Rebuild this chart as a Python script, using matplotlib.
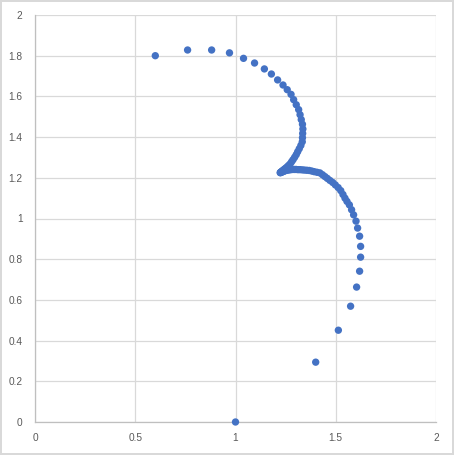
import matplotlib
matplotlib.use("Agg")
import matplotlib.pyplot as plt

# Data (ordered from the start at (1, 0) to the end at top-left)
x_values = [
    1.000, 1.400, 1.513, 1.574, 1.604, 1.619, 1.624, 1.624, 1.619, 1.609,
    1.601, 1.589, 1.579, 1.568, 1.556,
    1.546, 1.536, 1.525, 1.512, 1.498, 1.485, 1.471, 1.458, 1.446, 1.434,
    1.421, 1.407, 1.393, 1.381, 1.368, 1.356, 1.344, 1.333, 1.322, 1.312,
    1.302, 1.293, 1.284, 1.276, 1.268, 1.261, 1.254, 1.248, 1.243, 1.238,
    1.233, 1.230, 1.226, 1.223,
    1.224, 1.226, 1.228, 1.231, 1.235, 1.240, 1.245, 1.251, 1.258, 1.265,
    1.273, 1.280, 1.287, 1.295, 1.303, 1.310, 1.318, 1.326, 1.333, 1.334,
    1.335, 1.336, 1.334, 1.328, 1.322, 1.315, 1.303, 1.290, 1.277, 1.258,
    1.237, 1.210, 1.179, 1.144, 1.095, 1.040, 0.970, 0.881, 0.761, 0.600,
]
y_values = [
    0.000, 0.294, 0.451, 0.569, 0.663, 0.741, 0.810, 0.863, 0.913, 0.953,
    0.987, 1.018, 1.043, 1.067, 1.084,
    1.100, 1.118, 1.137, 1.152, 1.165, 1.177, 1.187, 1.197, 1.206, 1.215,
    1.224, 1.227, 1.230, 1.233, 1.236, 1.237, 1.238, 1.239, 1.240, 1.240,
    1.241, 1.241, 1.241, 1.240, 1.239, 1.238, 1.237, 1.235, 1.233, 1.231,
    1.229, 1.228, 1.226, 1.225,
    1.226, 1.227, 1.229, 1.232, 1.235, 1.239, 1.243, 1.248, 1.254, 1.261,
    1.269, 1.279, 1.289, 1.301, 1.314, 1.328, 1.343, 1.359, 1.377, 1.397,
    1.418, 1.440, 1.463, 1.486, 1.510, 1.535, 1.559, 1.584, 1.610, 1.633,
    1.656, 1.681, 1.710, 1.735, 1.764, 1.787, 1.814, 1.828, 1.828, 1.800,
]

x_ticks = [0, 0.5, 1, 1.5, 2]
x_tick_labels = ["0", "0.5", "1", "1.5", "2"]
y_ticks = [0, 0.2, 0.4, 0.6, 0.8, 1.0, 1.2, 1.4, 1.6, 1.8, 2.0]
y_tick_labels = ["0", "0.2", "0.4", "0.6", "0.8", "1", "1.2", "1.4", "1.6", "1.8", "2"]

plt.rcParams['font.family'] = ['Liberation Sans', 'DejaVu Sans']

fig = plt.figure(figsize=(4.54, 4.55), dpi=100)
fig.patch.set_facecolor('white')
fig.patch.set_edgecolor('#D9D9D9')
fig.patch.set_linewidth(1.5)

ax = fig.add_axes([35 / 454, 33 / 455, 401 / 454, 407 / 455])
ax.scatter(x_values, y_values, s=28, color='#4472C4', edgecolors='none', zorder=3, clip_on=False)

ax.set_xlim(0, 2)
ax.set_ylim(0, 2)
ax.set_xticks(x_ticks)
ax.set_xticklabels(x_tick_labels)
ax.set_yticks(y_ticks)
ax.set_yticklabels(y_tick_labels)
ax.tick_params(axis='both', length=0, labelsize=7.3, colors='#595959')
ax.tick_params(axis='x', pad=8)
ax.tick_params(axis='y', pad=9)

ax.grid(True, color='#D9D9D9', linewidth=0.9, zorder=0)
ax.set_axisbelow(True)
for side in ['top', 'right']:
    ax.spines[side].set_visible(False)
for side in ['left', 'bottom']:
    ax.spines[side].set_color('#BFBFBF')
    ax.spines[side].set_linewidth(0.9)

fig.savefig('out.png', dpi=100, facecolor=fig.get_facecolor(), edgecolor=fig.get_edgecolor())
